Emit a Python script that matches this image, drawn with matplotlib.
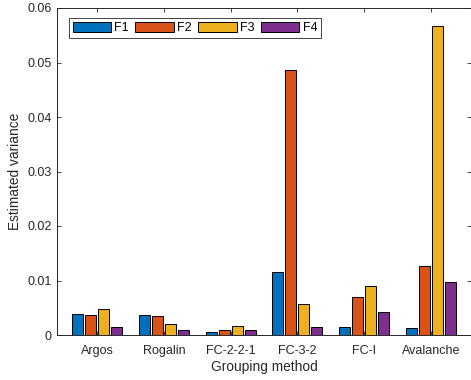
import numpy as np
import matplotlib
matplotlib.use("Agg")
import matplotlib.pyplot as plt

plt.rcParams['font.family'] = ['Liberation Sans', 'DejaVu Sans']

# data
methods = ["Argos", "Rogalin", "FC-2-2-1", "FC-3-2", "FC-I", "Avalanche"]
series = ["F1", "F2", "F3", "F4"]
f1 = [0.0039, 0.0037, 0.0006, 0.0116, 0.0015, 0.0013]
f2 = [0.0037, 0.0035, 0.0010, 0.0486, 0.0070, 0.0126]
f3 = [0.0048, 0.0020, 0.0016, 0.0057, 0.0090, 0.0567]
f4 = [0.0015, 0.0009, 0.0009, 0.0014, 0.0043, 0.0098]
colors = ["#0072BD", "#D95319", "#EDB120", "#7E2F8E"]

fig = plt.figure(figsize=(4.71, 3.80), dpi=100)
ax = fig.add_axes([57 / 471, 45 / 380, 414 / 471, 327 / 380])

x = np.arange(1, len(methods) + 1)
pitch = 0.195
width = 0.165
for i, (vals, name) in enumerate(zip([f1, f2, f3, f4], series)):
    ax.bar(x + (i - 1.5) * pitch, vals, width, color=colors[i],
           edgecolor="black", linewidth=0.7, label=name)

ax.set_xlim(0.4, 6.6)
ax.set_ylim(0, 0.06)
ax.set_xticks(x)
ax.set_xticklabels(methods)
ax.set_yticks(np.arange(0, 0.061, 0.01))
ax.set_yticklabels(["0", "0.01", "0.02", "0.03", "0.04", "0.05", "0.06"])
ax.tick_params(direction="in", top=True, right=True, labelsize=9,
               length=3, width=0.6, colors="#262626", pad=4)
ax.tick_params(axis="x", pad=7)
for sp in ax.spines.values():
    sp.set_linewidth(0.7)
    sp.set_color("#262626")
ax.set_xlabel("Grouping method", fontsize=9.9, color="#262626", labelpad=2.5)
ax.set_ylabel("Estimated variance", fontsize=9.9, color="#262626", labelpad=4)

leg = ax.legend(ncol=4, loc="upper left", bbox_to_anchor=(0.029, 0.969),
                fontsize=9, handlelength=3.1, handleheight=0.95,
                handletextpad=0.25, columnspacing=0.5, borderpad=0.28,
                fancybox=False, framealpha=1, edgecolor="#444444",
                borderaxespad=0)
leg.get_frame().set_linewidth(0.7)

fig.savefig("out.png", dpi=100)
